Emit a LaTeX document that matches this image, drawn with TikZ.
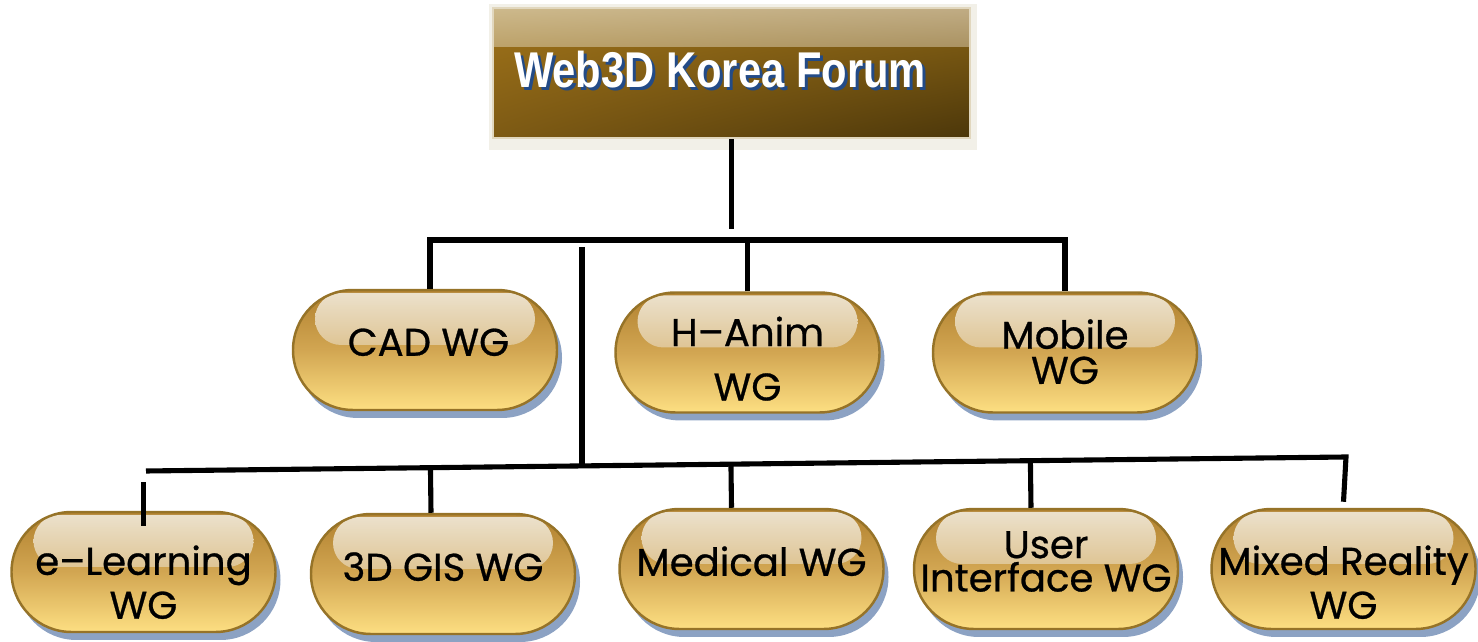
\documentclass[tikz,border=0pt]{standalone}
\usepackage{fontspec}
\setmainfont{Poppins}[FakeBold=0.7]
\newfontfamily\titlefont[FakeStretch=0.83]{Liberation Sans}
\usetikzlibrary{shadows, shadings, calc, backgrounds}
\definecolor{titlehiL}{RGB}{205,185,140}
\definecolor{titlehiR}{RGB}{192,172,132}
\definecolor{titlemidL}{RGB}{150,108,24}
\definecolor{titlemidR}{RGB}{118,86,18}
\definecolor{titlelowL}{RGB}{125,90,20}
\definecolor{titlelowR}{RGB}{76,55,10}
\definecolor{titleframe}{RGB}{242,240,232}
\definecolor{titleedge}{RGB}{225,215,190}
\definecolor{titleshadow}{RGB}{35,75,135}
\definecolor{pilltop}{RGB}{176,128,46}
\definecolor{pillmid}{RGB}{210,166,82}
\definecolor{pillbot}{RGB}{253,223,130}
\definecolor{pillline}{RGB}{150,115,40}
\definecolor{pillhi}{RGB}{236,226,206}
\definecolor{pillhilow}{RGB}{207,163,82}
\definecolor{shadowblue}{RGB}{140,162,195}

% shifted text block inside a pill
\newcommand{\wgtext}[2]{\raisebox{#1}[\height][\depth]{\begin{tabular}{@{}c@{}}#2\end{tabular}}}

\begin{document}
\begin{tikzpicture}[
    wg/.style={rectangle, rounded corners=0.6cm, draw=pillline, line width=0.7pt, minimum width=2.64cm, minimum height=1.20cm, inner sep=0pt,
        top color=pilltop, bottom color=pillbot, middle color=pillmid, align=center, font=\fontsize{11}{12.5}\selectfont,
        drop shadow={shadow xshift=0.05cm, shadow yshift=-0.08cm, fill=shadowblue, opacity=1},
        path picture={\shade[top color=pillhi, bottom color=pillhilow, rounded corners=0.26cm]
            ($(path picture bounding box.north west)+(0.22,-0.03)$) rectangle ($(path picture bounding box.north east)+(-0.22,-0.55)$);}},
    titlebox/.style={rectangle, draw=titleedge, line width=0.6pt, minimum width=4.77cm, minimum height=1.30cm,
        path picture={
            \shade[upper left=titlehiL, upper right=titlehiR, lower left=titlemidL, lower right=titlemidR]
                (path picture bounding box.north west) rectangle ($(path picture bounding box.north east)+(0,-0.40)$);
            \shade[upper left=titlemidL, upper right=titlemidR, lower left=titlelowL, lower right=titlelowR]
                ($(path picture bounding box.north west)+(0,-0.399)$) rectangle (path picture bounding box.south east);}},
    titletext/.style={font=\titlefont\bfseries\fontsize{14.3}{16}\selectfont, inner sep=0pt},
    conn/.style={line width=1.45pt, black}
]
    \useasboundingbox (0,0) rectangle (14.78,-6.42);

    % Forum box
    \node[titlebox] (forum) at (7.315,-0.73) {};
    \begin{scope}[on background layer]
        \fill[titleframe] ($(forum.north west)+(-0.03,0.03)$) rectangle ($(forum.south east)+(0.06,-0.11)$);
    \end{scope}
    \node[titletext, text=titleshadow] (forumshadow) at (7.23,-0.73) {Web3D Korea Forum};
    \node[titletext, text=white] (forumtext) at (7.20,-0.70) {Web3D Korea Forum};

    % First row of working groups
    \node[wg] (cad) at (4.25,-3.50) {\wgtext{0.03cm}{\hspace{0.07cm}CAD WG}};
    \node[wg] (hanim) at (7.475,-3.525) {\wgtext{-0.12cm}{H--Anim\\[3pt]WG}};
    \node[wg] (mobile) at (10.65,-3.525) {\wgtext{-0.05cm}{Mobile\\[-2.5pt]WG}};

    % Second row of working groups
    \node[wg] (elearn) at (1.435,-5.72) {\wgtext{-0.16cm}{e--Learning\\WG}};
    \node[wg] (gis) at (4.43,-5.74) {\wgtext{0.02cm}{3D GIS WG}};
    \node[wg] (medical) at (7.515,-5.69) {\wgtext{0.02cm}{Medical WG}};
    \node[wg] (ui) at (10.46,-5.69) {\wgtext{0.03cm}{User\\[-3pt]Interface WG}};
    \node[wg] (mixed) at (13.435,-5.69) {\wgtext{-0.19cm}{Mixed Reality\\WG}};

    % Bus coordinates
    \coordinate (stemend) at (7.315,-2.29);
    \coordinate (topbusL) at (4.30,-2.40);
    \coordinate (topbusR) at (10.65,-2.40);
    \coordinate (trunktop) at (5.82,-2.47);
    \coordinate (trunkbot) at (5.82,-4.68);
    \coordinate (lowbusL) at (1.46,-4.71);
    \coordinate (lowbusR) at (13.46,-4.57);

    % Upper connectors
    \draw[conn] (forum.south) -- (stemend);
    \draw[conn] (cad.north -| topbusL) -- (topbusL) -- (topbusR) -- (mobile.north);
    \draw[conn] (hanim.north) -- (hanim.north |- topbusL);
    \draw[conn] (trunktop) -- (trunkbot);

    % Lower connectors
    \draw[conn] (lowbusL) -- (lowbusR) -- ([yshift=0.06cm]mixed.north);
    \draw[conn] ([yshift=-0.15cm]elearn.north) -- ([yshift=0.29cm]elearn.north);
    \draw[conn] ([xshift=-0.12cm]gis.north) -- ($(lowbusL)!([xshift=-0.12cm]gis.north)!(lowbusR)$);
    \draw[conn] ([xshift=-0.20cm]medical.north) -- ($(lowbusL)!([xshift=-0.20cm]medical.north)!(lowbusR)$);
    \draw[conn] ([xshift=-0.15cm]ui.north) -- ($(lowbusL)!([xshift=-0.15cm]ui.north)!(lowbusR)$);
\end{tikzpicture}
\end{document}
